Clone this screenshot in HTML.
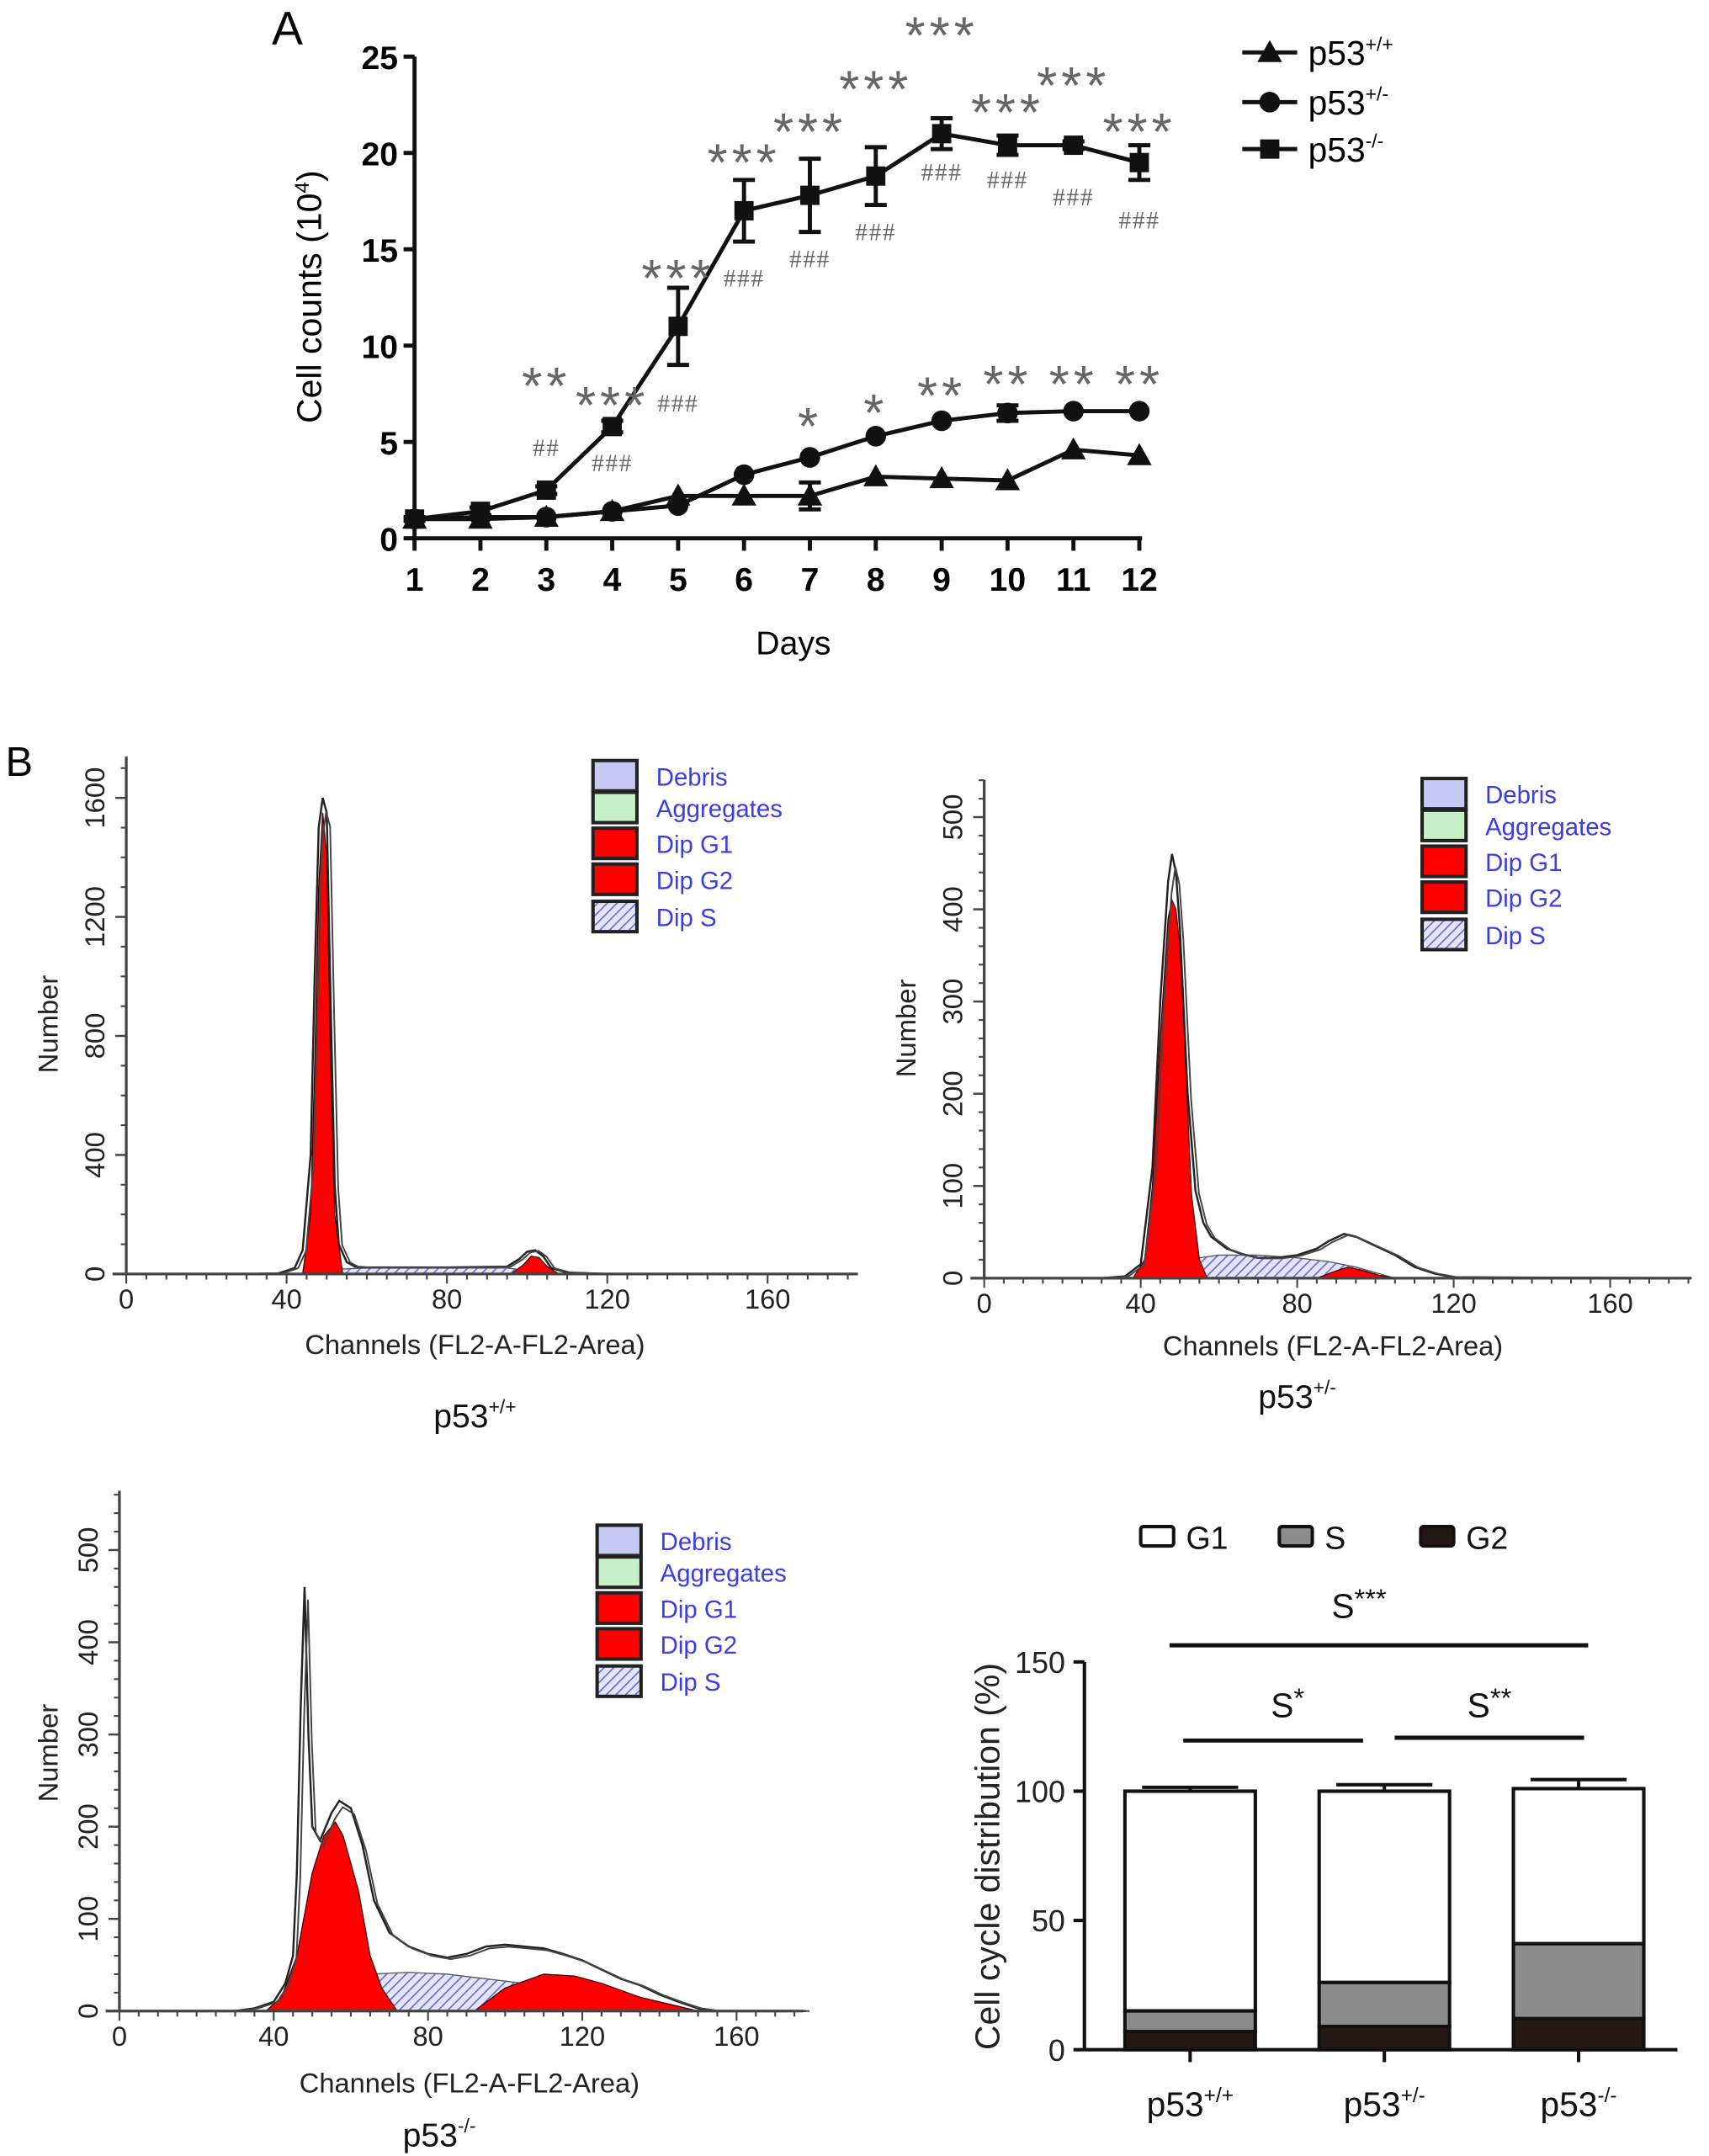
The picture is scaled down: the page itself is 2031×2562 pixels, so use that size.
<!DOCTYPE html>
<html><head><meta charset="utf-8">
<style>
html,body{margin:0;padding:0;background:#fff;}
svg{display:block;font-family:"Liberation Sans",sans-serif;}
</style></head>
<body>
<svg id="fig" width="2031" height="2562" viewBox="0 0 1245 1562" preserveAspectRatio="none" xmlns="http://www.w3.org/2000/svg">
<defs>
<pattern id="hatch" patternUnits="userSpaceOnUse" width="5" height="5" patternTransform="rotate(45)">
<rect width="5" height="5" fill="#e4e4fb"/><line x1="0" y1="0" x2="0" y2="5" stroke="#6a6ad8" stroke-width="2"/>
</pattern>
</defs>
<g id="root"></g>
</svg>
<script>
// ===== Panel A data =====
const days = [1,2,3,4,5,6,7,8,9,10,11,12];
const yTicksA = [0,5,10,15,20,25];
const koVals = [1,1.4,2.5,5.8,11,17,17.8,18.8,21,20.4,20.4,19.5];
const koErr = [0.1,0.2,0.2,0.3,2,1.6,1.9,1.5,0.8,0.5,0.2,0.9];
const hetVals = [1.0,1.1,1.1,1.4,1.7,3.3,4.2,5.3,6.1,6.5,6.6,6.6];
const hetErr = [0,0,0,0,0,0,0,0,0,0.4,0,0];
const wtVals = [1.0,1.0,1.1,1.4,2.2,2.2,2.2,3.2,3.1,3.0,4.6,4.3];
const wtErr = [0,0,0,0,0,0,0.7,0,0,0,0,0];
const koStarLabels = ['','','**','***','***','***','***','***','***','***','***','***'];
const koStarY = [0,0,8.4,7.4,14,20,21.6,23.8,26.6,22.6,24,21.6];
const koHashLabels = ['','','##','###','###','###','###','###','###','###','###','###'];
const koHashY = [0,0,4.7,3.9,7.0,13.5,14.5,15.9,19,18.6,17.7,16.5];
const hetStarLabels = ['','','','','','','*','*','**','**','**','**'];
const hetStarY = [0,0,0,0,0,0,6.3,7,7.9,8.5,8.5,8.5];

// ===== Histogram data =====
const tlOutlineCh = [30,38,42,44,46,47,48,49,50,51,52,53,55,57,60,80,95,98,100,102,104,106,110,120,180];
const tlOutlineV  = [0,2,20,80,400,1000,1500,1600,1550,900,300,100,40,25,22,22,25,50,75,80,60,20,5,0,0];
const tlG1Ch = [44,46,47,48,49,50,51,52,54];
const tlG1V  = [0,200,700,1300,1550,1400,700,200,0];
const tlSCh = [46,50,60,80,95,100,104];
const tlSV  = [0,15,20,20,20,12,0];
const tlG2Ch = [96,99,101,103,105,108];
const tlG2V  = [0,30,60,55,25,0];

const trOutlineCh = [30,36,40,43,45,47,48,49,50,52,54,56,58,62,66,70,75,80,85,88,92,95,100,105,110,115,120,180];
const trOutlineV  = [0,2,15,120,300,430,460,440,380,200,95,60,45,32,26,22,22,25,32,40,48,45,35,25,12,5,1,0];
const trG1Ch = [38,41,43,45,47,48,49,50,51,52,53,55,57];
const trG1V  = [0,20,100,260,390,410,400,360,280,180,90,20,0];
const trSCh = [40,45,50,55,60,70,80,88,95,100,105];
const trSV  = [0,10,20,22,25,25,22,18,12,6,0];
const trG2Ch = [85,90,93,97,101,105];
const trG2V  = [0,8,12,8,3,0];

const blOutlineCh = [30,35,40,43,45,46,47,48,49,50,52,55,57,60,63,66,70,75,80,85,90,95,100,105,110,115,120,125,130,135,140,145,150,155,178];
const blOutlineV  = [0,3,10,30,60,150,330,460,300,200,185,215,228,220,180,120,85,70,62,58,62,70,72,70,68,62,55,45,35,28,18,10,3,0,0];
const blG1Ch = [38,42,46,50,53,56,58,62,65,68,72];
const blG1V  = [0,15,60,150,190,205,190,130,60,25,0];
const blSCh = [38,45,55,65,75,85,95,105,115,125,135,145,150];
const blSV  = [0,10,30,40,42,40,35,30,25,20,12,5,0];
const blG2Ch = [92,100,110,118,125,135,145,150];
const blG2V  = [0,25,40,38,30,15,5,0];

// ===== Bar chart data =====
const groups = ['p53', 'p53', 'p53'];
const groupSup = ['+/+','+/-','-/-'];
const g2Vals = [7,9,12];
const sVals = [8,17,29];
const g1Vals = [85,74,60];
const g1Err = [1.5,2.5,3.5];
const sErr = [1.5,2,3];
const barTicks = [0,50,100,150];

const NS='http://www.w3.org/2000/svg';
const root=document.getElementById('root');
function el(tag,attrs,parent,text){
  const e=document.createElementNS(NS,tag);
  for(const k in attrs) e.setAttribute(k,attrs[k]);
  if(text!==undefined) e.textContent=text;
  (parent||root).appendChild(e);
  return e;
}

// ---------- Panel A ----------
const gA=el('g',{});


const xA=d=>302+(d-1)*48;
const yA=v=>390-v*13.96;
let t=el('text',{x:198,y:32,'font-size':34},gA,'A');


let ax=el('line',{x1:302,y1:yA(25),x2:302,y2:390,stroke:'#111','stroke-width':3},gA);


ax=el('line',{x1:300,y1:390,x2:xA(12)+2,y2:390,stroke:'#111','stroke-width':3},gA);


yTicksA.forEach(v=>{
  el('line',{x1:294,y1:yA(v),x2:302,y2:yA(v),stroke:'#111','stroke-width':3},gA);
  const tt=el('text',{x:290,y:yA(v)+9,'font-size':24,'font-weight':'bold','text-anchor':'end'},gA,String(v));
  
  
});
days.forEach(d=>{
  el('line',{x1:xA(d),y1:390,x2:xA(d),y2:399,stroke:'#111','stroke-width':3},gA);
  const tt=el('text',{x:xA(d),y:428,'font-size':24,'font-weight':'bold','text-anchor':'middle'},gA,String(d));
  
  
});
t=el('text',{x:578,y:474,'font-size':24,'text-anchor':'middle'},gA,'Days');


t=el('text',{x:0,y:0,'font-size':25,'text-anchor':'middle',transform:'translate(234,215) rotate(-90)'},gA);


t.innerHTML='Cell counts (10<tspan dy="-9" font-size="15">4</tspan><tspan dy="9">)</tspan>';

function marker(shape,x,y,g){
  if(shape==='tri') return el('polygon',{points:`${x},${y-9} ${x-9},${y+7} ${x+9},${y+7}`,fill:'#111'},g);
  if(shape==='circ') return el('circle',{cx:x,cy:y,r:7.5,fill:'#111'},g);
  return el('rect',{x:x-7,y:y-7,width:14,height:14,fill:'#111'},g);
}
function series(vals,errs,shape,name){
  const g=el('g',{},gA);
  
  
  el('polyline',{points:vals.map((v,i)=>xA(days[i])+','+yA(v)).join(' '),fill:'none',stroke:'#111','stroke-width':3},g);
  vals.forEach((v,i)=>{
    if(errs[i]>0){
      const x=xA(days[i]);
      el('line',{x1:x,y1:yA(v+errs[i]),x2:x,y2:yA(v-errs[i]),stroke:'#111','stroke-width':3},g);
      el('line',{x1:x-8,y1:yA(v+errs[i]),x2:x+8,y2:yA(v+errs[i]),stroke:'#111','stroke-width':3},g);
      el('line',{x1:x-8,y1:yA(v-errs[i]),x2:x+8,y2:yA(v-errs[i]),stroke:'#111','stroke-width':3},g);
    }
    const m=marker(shape,xA(days[i]),yA(v),g);
    
    
  });
}
series(wtVals,wtErr,'tri','series-p53-wt');
series(hetVals,hetErr,'circ','series-p53-het');
series(koVals,koErr,'sq','series-p53-ko');
function annots(labels,ys,size,font,name,dy,ls){
  labels.forEach((l,i)=>{
    if(!l) return;
    const tt=el('text',{x:xA(days[i]),y:yA(ys[i])+dy,'font-size':size,'font-family':font,fill:'#666','text-anchor':'middle','letter-spacing':ls},gA,l);
    
    
  });
}
annots(koStarLabels,koStarY,38,'"Liberation Sans",sans-serif','significance-star',20,'3');
annots(hetStarLabels,hetStarY,38,'"Liberation Sans",sans-serif','significance-star',20,'3');
annots(koHashLabels,koHashY,18,'"Liberation Serif",serif','significance-hash',6,'1');
// legend
const legA=[['tri','+/+',38],['circ','+/-',74],['sq','-/-',108]];
legA.forEach(l=>{
  const g=el('g',{},gA);
  
  
  el('line',{x1:905,y1:l[2],x2:945,y2:l[2],stroke:'#111','stroke-width':3},g);
  marker(l[0],925,l[2],g);
  const tt=el('text',{x:953,y:l[2]+9,'font-size':25},g);
  tt.innerHTML='p53<tspan dy="-10" font-size="14">'+l[1]+'</tspan>';
});

// ---------- Panel B label ----------
t=el('text',{x:4,y:562,'font-size':30},root,'B');



// ---------- Histograms ----------
function histogram(cfg){
  const g=el('g',{});
  
  
  const X=c=>cfg.x0+c*cfg.sx, Y=v=>cfg.y0-v*cfg.sy;
  const poly=(ch,v)=>ch.map((c,i)=>X(c)+','+Y(v[i])).join(' ');
  const s=el('polygon',{points:poly(cfg.sCh,cfg.sV),fill:'url(#hatch)',stroke:'#555','stroke-width':0.8},g);
  
  
  const g1=el('polygon',{points:poly(cfg.g1Ch,cfg.g1V),fill:'#f00',stroke:'#400','stroke-width':0.8},g);
  
  
  const g2=el('polygon',{points:poly(cfg.g2Ch,cfg.g2V),fill:'#f00',stroke:'#400','stroke-width':0.8},g);
  
  
  const o=el('polyline',{points:poly(cfg.oCh,cfg.oV),fill:'none',stroke:'#222','stroke-width':1.5},g);
  
  
  el('polyline',{points:cfg.oCh.map((c,i)=>(X(c)+2.5)+','+Y(cfg.oV[i]*0.97)).join(' '),fill:'none',stroke:'#444','stroke-width':1.2},g);
  // axes
  el('line',{x1:cfg.x0,y1:cfg.yTop,x2:cfg.x0,y2:cfg.y0,stroke:'#444','stroke-width':2},g);
  el('line',{x1:cfg.x0-10,y1:cfg.y0,x2:cfg.xEnd,y2:cfg.y0,stroke:'#444','stroke-width':2},g);
  for(let c=0;c*cfg.sx+cfg.x0<=cfg.xEnd;c+=5) el('line',{x1:X(c),y1:cfg.y0,x2:X(c),y2:cfg.y0+(c%40===0?7:4),stroke:'#444','stroke-width':1.3},g);
  [0,40,80,120,160].forEach(c=>{const tt=el('text',{x:X(c),y:cfg.y0+25,'font-size':20,'text-anchor':'middle',fill:'#222'},g,String(c));});
  for(let v=0;Y(v)>=cfg.yTop;v+=cfg.minor) el('line',{x1:cfg.x0-4,y1:Y(v),x2:cfg.x0,y2:Y(v),stroke:'#444','stroke-width':1.3},g);
  cfg.yTicks.forEach(v=>{
    el('line',{x1:cfg.x0-8,y1:Y(v),x2:cfg.x0,y2:Y(v),stroke:'#444','stroke-width':1.5},g);
    const tt=el('text',{x:0,y:0,'font-size':20,'text-anchor':'middle',fill:'#222',transform:`translate(${cfg.x0-16},${Y(v)}) rotate(-90)`},g,String(v));
    
    
  });
  let tt=el('text',{x:0,y:0,'font-size':20,'text-anchor':'middle',fill:'#222',transform:`translate(${cfg.numX},${cfg.numY}) rotate(-90)`},g,'Number');
  
  
  tt=el('text',{x:cfg.chX,y:cfg.chY,'font-size':20,'text-anchor':'middle',fill:'#222'},g,'Channels (FL2-A-FL2-Area)');
  
  
  tt=el('text',{x:cfg.tX,y:cfg.tY,'font-size':24,'text-anchor':'middle',fill:'#111'},g);
  tt.innerHTML='p53<tspan dy="-10" font-size="14">'+cfg.sup+'</tspan>';
  
  
  // legend
  const items=[['Debris','#c8c8f4'],['Aggregates','#c8f0c8'],['Dip G1','#f00'],['Dip G2','#f00'],['Dip S','url(#hatch)']];
  items.forEach((it,i)=>{
    const yy=cfg.legRows[i];
    const lg=el('g',{},g);
    
    
    el('rect',{x:cfg.legX,y:yy-11,width:32,height:22,fill:it[1],stroke:'#222','stroke-width':2.5},lg);
    el('text',{x:cfg.legX+46,y:yy+7,'font-size':18,fill:'#3c3ce6'},lg,it[0]);
  });
}
histogram({name:'histogram-p53-wt',x0:92,y0:923,sx:2.92,sy:0.2156,yTop:548,xEnd:625,yTicks:[0,400,800,1200,1600],minor:100,
  oCh:tlOutlineCh,oV:tlOutlineV,g1Ch:tlG1Ch,g1V:tlG1V,sCh:tlSCh,sV:tlSV,g2Ch:tlG2Ch,g2V:tlG2V,
  numX:42,numY:742,chX:346,chY:981,tX:346,tY:1034,sup:'+/+',legX:432,legRows:[562,585,611,637,664]});
histogram({name:'histogram-p53-het',x0:717,y0:926,sx:2.85,sy:0.668,yTop:565,xEnd:1232,yTicks:[0,100,200,300,400,500],minor:20,
  oCh:trOutlineCh,oV:trOutlineV,g1Ch:trG1Ch,g1V:trG1V,sCh:trSCh,sV:trSV,g2Ch:trG2Ch,g2V:trG2V,
  numX:667,numY:745,chX:971,chY:982,tX:945,tY:1020,sup:'+/-',legX:1036,legRows:[575,598,624,650,677]});
histogram({name:'histogram-p53-ko',x0:87,y0:1457,sx:2.81,sy:0.668,yTop:1080,xEnd:585,yTicks:[0,100,200,300,400,500],minor:20,
  oCh:blOutlineCh,oV:blOutlineV,g1Ch:blG1Ch,g1V:blG1V,sCh:blSCh,sV:blSV,g2Ch:blG2Ch,g2V:blG2V,
  numX:42,numY:1270,chX:342,chY:1516,tX:320,tY:1555,sup:'-/-',legX:435,legRows:[1116,1139,1165,1191,1218]});

// ---------- Bar chart ----------
const gB=el('g',{});


const xB=i=>867+i*141.5;
const yB=v=>1485-v*1.873;
const bw=95;
el('line',{x1:790,y1:yB(150),x2:790,y2:1485,stroke:'#111','stroke-width':2.5},gB);
el('line',{x1:790,y1:1485,x2:1222,y2:1485,stroke:'#111','stroke-width':2.5},gB);
barTicks.forEach(v=>{
  el('line',{x1:782,y1:yB(v),x2:790,y2:yB(v),stroke:'#111','stroke-width':2.5},gB);
  const tt=el('text',{x:776,y:yB(v)+8,'font-size':22,'text-anchor':'end',fill:'#222'},gB,String(v));
  
  
});
t=el('text',{x:0,y:0,'font-size':25,'text-anchor':'middle',fill:'#222',transform:'translate(728,1345) rotate(-90)'},gB,'Cell cycle distribution (%)');


groups.forEach((gname,i)=>{
  const x=xB(i)-bw/2;
  const b0=g2Vals[i], b1=b0+sVals[i], b2=b1+g1Vals[i];
  const bg=el('g',{},gB);
  
  
  [[b2,g1Err[i]],[b1,sErr[i]]].forEach(e=>{
    el('line',{x1:xB(i),y1:yB(e[0]),x2:xB(i),y2:yB(e[0]+e[1]),stroke:'#111','stroke-width':2.5},bg);
    el('line',{x1:xB(i)-35,y1:yB(e[0]+e[1]),x2:xB(i)+35,y2:yB(e[0]+e[1]),stroke:'#111','stroke-width':2.5},bg);
  });
  let r=el('rect',{x:x,y:yB(b2),width:bw,height:yB(b1)-yB(b2),fill:'#fff',stroke:'#111','stroke-width':2.5},bg);
  
  
  r=el('rect',{x:x,y:yB(b1),width:bw,height:yB(b0)-yB(b1),fill:'#8c8c8c',stroke:'#111','stroke-width':2.5},bg);
  
  
  r=el('rect',{x:x,y:yB(b0),width:bw,height:yB(0)-yB(b0),fill:'#231815',stroke:'#111','stroke-width':2.5},bg);
  
  
  el('line',{x1:xB(i),y1:1485,x2:xB(i),y2:1494,stroke:'#111','stroke-width':2.5},bg);
  const tt=el('text',{x:xB(i),y:1533,'font-size':25,'text-anchor':'middle',fill:'#111'},bg);
  tt.innerHTML=gname+'<tspan dy="-10" font-size="15">'+groupSup[i]+'</tspan>';
  
  
});
[['G1','#fff',831],['S','#8c8c8c',932],['G2','#231815',1035]].forEach(l=>{
  const lg=el('g',{},gB);
  
  
  el('rect',{x:l[2],y:1106,width:24,height:14,fill:l[1],stroke:'#111','stroke-width':2.5,rx:2},lg);
  el('text',{x:l[2]+33,y:1122,'font-size':23,fill:'#111'},lg,l[0]);
});
[[852,1157,1192,990,1172,'S***'],[862,993,1261,938,1244,'S*'],[1016,1154,1259,1085,1244,'S**']].forEach(s=>{
  const sg=el('g',{},gB);
  
  
  el('line',{x1:s[0],y1:s[2],x2:s[1],y2:s[2],stroke:'#111','stroke-width':3},sg);
  const tt=el('text',{x:s[3],y:s[4],'font-size':25,'text-anchor':'middle',fill:'#111'},sg);
  tt.innerHTML='S<tspan dy="-7" font-size="20">'+s[5].slice(1)+'</tspan>';
});
</script>
</body></html>
